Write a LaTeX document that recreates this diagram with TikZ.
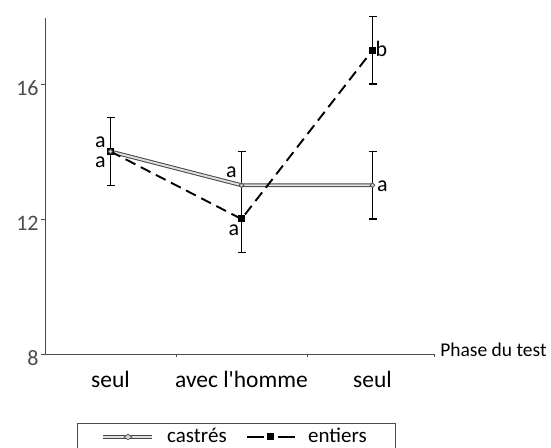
\documentclass[tikz,border=0pt]{standalone}
\usepackage{fontspec}
\setmainfont{Carlito}
\usepackage{tikz}
\usepackage{tkz-euclide}
\usetikzlibrary{shapes.geometric}

\tikzset{
    axe/.style={gray!60!black, line width=0.8pt},
    castre/.style={draw=gray!55!black, double=gray!25, line width=1pt, double distance=1.9pt},
    entier/.style={black, line width=1.9pt, dash pattern=on 11pt off 6pt},
    ebar/.style={black, line width=1.1pt},
    diam/.style={diamond, draw=gray!55!black, fill=gray!35, line width=0.6pt, inner sep=0pt, minimum size=5pt},
    carre/.style={rectangle, fill=black, inner sep=0pt, minimum size=7pt},
    lbl/.style={font=\fontsize{22}{24}\selectfont, inner sep=0pt},
}

\begin{document}
\begin{tikzpicture}[x=131pt,y=33.75pt]
    \useasboundingbox (-0.3435,5.2444) rectangle (3.8626,18.4889);
    \tkzDefPoints{0/8/O, 0/17.96/Y, 2.97/8/X,
        0.5/14/C1, 1.5/13/C2, 2.5/13/C3,
        0.5/14/E1, 1.5/12/E2, 2.5/17/E3}
    % axes
    \draw[axe] (Y) -- (O) -- (X) -- ++(0,-3pt);
    \foreach \v in {8,12,16}
        \draw[axe] (0,\v) -- ++(-4pt,0) node[lbl, anchor=east, xshift=-2pt, yshift=-4pt] (t\v) {\v};
    \foreach \x in {1,2}
        \draw[axe] (\x,8) -- ++(0,-3pt);
    \node[lbl, font=\fontsize{19.5}{21}\selectfont, anchor=base west, xshift=6pt, yshift=-3pt] (titre) at (X) {Phase du test};
    \foreach \x/\t [count=\i] in {0.5/seul, 1.5/avec l\textquotesingle homme, 2.5/seul}
        \node[lbl, font=\fontsize{23.5}{25}\selectfont, anchor=base] (cat\i) at (\x,7) {\t};
    % series
    \draw[castre] (C1) -- (C2) -- (C3);
    \draw[entier] (E1) -- (E2) -- (E3);
    \foreach \x/\lo/\hi in {0.5/13/15, 1.5/11/14, 2.5/12/14, 2.5/16/18}{
        \draw[ebar] (\x,\lo) -- (\x,\hi);
        \draw[ebar] ([xshift=-4pt]\x,\lo) -- ([xshift=4pt]\x,\lo);
        \draw[ebar] ([xshift=-4pt]\x,\hi) -- ([xshift=4pt]\x,\hi);
    }
    \foreach \p in {E1,E2,E3}
        \node[carre] (m\p) at (\p) {};
    \foreach \p in {C1,C2,C3}
        \node[diam] (m\p) at (\p) {};
    % letters
    \node[lbl] (l1h) at ([xshift=-10pt,yshift=9.5pt]C1) {a};
    \node[lbl] (l1b) at ([xshift=-10pt,yshift=-10.5pt]E1) {a};
    \node[lbl] (l2h) at ([xshift=-10pt,yshift=13pt]C2) {a};
    \node[lbl] (l2b) at ([xshift=-7.5pt,yshift=-11pt]E2) {a};
    \node[lbl] (l3h) at ([xshift=9pt,yshift=1pt]E3) {b};
    \node[lbl] (l3b) at ([xshift=10pt,yshift=-1pt]C3) {a};
    % legend
    \node[draw=gray!60!black, line width=0.6pt, minimum width=318pt, minimum height=33pt] (leg) at (1.458,5.467) {};
    \tkzDefPoints{0.4427/5.541/La, 0.8168/5.541/Lb, 0.6336/5.541/Lc,
        1.542/5.541/Ld, 1.908/5.541/Le, 1.725/5.541/Lf}
    \draw[castre, line width=1.2pt, double distance=2.4pt] (La) -- (Lb);
    \node[diam, minimum width=8pt, minimum height=6pt] (lgc) at (Lc) {};
    \draw[entier, line width=2.4pt, dash pattern=on 17pt off 14pt] (Ld) -- (Le);
    \node[carre] (lge) at (Lf) {};
    \node[lbl, font=\fontsize{21}{23}\selectfont, anchor=base west] (txc) at (0.9313,5.37) {castrés};
    \node[lbl, font=\fontsize{21}{23}\selectfont, anchor=base west] (txe) at (2.0076,5.37) {entiers};
\end{tikzpicture}
\end{document}
